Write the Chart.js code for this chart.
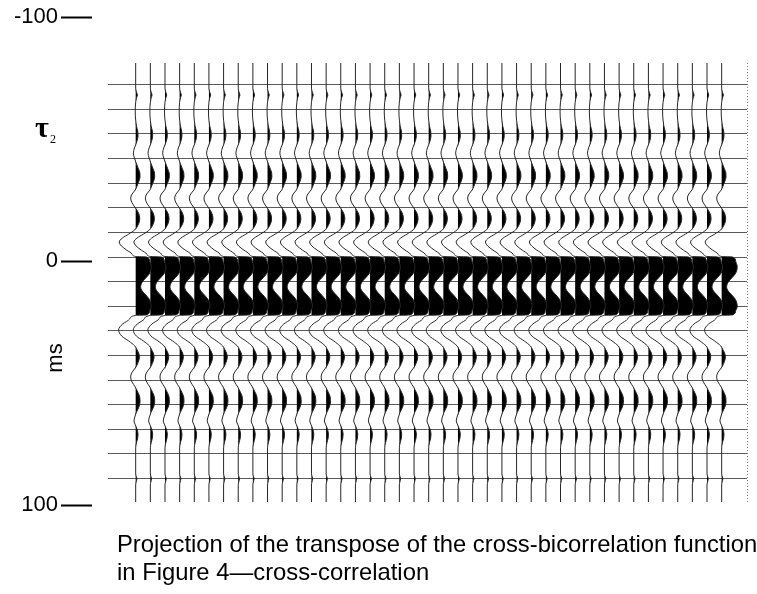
<!DOCTYPE html>
<html>
<head>
<meta charset="utf-8">
<script src="https://cdn.jsdelivr.net/npm/chart.js@4/dist/chart.umd.min.js"></script>
<style>
  html, body { margin: 0; padding: 0; background: #fff; }
  canvas { display: block; }
</style>
</head>
<body>
<canvas id="c" width="757" height="594"></canvas>
<script>
// Lag (in grid steps, 0 = zero lag) at which each trace is sampled
const lagSamples = [
  -7.88, -6.86, -6.70, -6.58, -6.46, -6.29, -5.89, -5.56, -5.32, -5.12,
  -4.95, -4.79, -4.59, -4.43, -4.22, -4.02, -3.82, -3.61, -3.41, -3.25,
  -3.05, -2.84, -2.72, -2.56, -2.40, -2.23, -2.07, -1.95, -1.79, -1.58,
  -1.42, -1.26, -1.10, -0.93, -0.77, -0.61, -0.45, -0.28, -0.12, -0.02,
   0.00,  0.16,  0.37,  0.53,  0.69,  0.85,  1.02,  1.22,  1.38,  1.54,
   1.71,  1.87,  2.03,  2.19,  2.35,  2.37,  2.52,  2.72,  2.96,  3.21,
   3.41,  3.61,  3.74,  3.90,  4.06,  4.22,  4.43,  4.59,  4.75,  4.91,
   5.08,  5.28,  5.44,  5.68,  5.89,  6.09,  6.33,  6.50,  6.66,  6.82,
   6.98,  7.19,  7.35,  7.55,  7.75,  8.81,  8.93,  9.01,  9.14,  9.26,
   9.95
];

// Normalised cross-correlation at those lags (same for every trace)
const crossCorr = [
   0.00,  0.00,  0.05,  0.11,  0.05,  0.00, -0.03,  0.00,  0.05,  0.13,
   0.15,  0.12,  0.02, -0.08, -0.15, -0.08,  0.03,  0.16,  0.27,  0.28,
   0.19,  0.06, -0.03, -0.23, -0.32, -0.26, -0.10,  0.03,  0.18,  0.26,
   0.23,  0.12, -0.06, -0.45, -0.86, -1.06, -0.92, -0.58, -0.23,  0.00,
   0.71,  0.90,  1.00,  0.98,  0.87,  0.65,  0.42,  0.32,  0.42,  0.65,
   0.87,  0.98,  1.00,  0.90,  0.71,  0.00, -0.39, -0.84, -1.10, -0.90,
  -0.45, -0.06,  0.06,  0.19,  0.24,  0.19,  0.05, -0.13, -0.29, -0.32,
  -0.23, -0.03,  0.10,  0.26,  0.28,  0.21,  0.03, -0.06, -0.11, -0.02,
   0.08,  0.15,  0.13,  0.05,  0.00,  0.00,  0.05,  0.08,  0.03,  0.00,
   0.00
];

const traceCount = 41;                       // traces across the panel
const gridLags = [-7, -6, -5, -4, -3, -2, -1, 0, 1, 2, 3, 4, 5, 6, 7, 8, 9];
const msTicks = [-100, 0, 100];              // labelled time marks
const lagRange = [-7.88, 9.95];
const msRange = [-81.15, 98.77];
const traceRange = [-1.89, 41.73];
const traceGain = 1.06;                      // trace spacings per unit correlation
const axisName = 'ms';
const lagSymbol = 'τ';
const lagSub = '2';
const captionLines = [
  'Projection of the transpose of the cross-bicorrelation function',
  'in Figure 4\u2014cross-correlation'
];

const datasets = [];
for (let i = 0; i < traceCount; i++) {
  // wiggle line
  datasets.push({
    data: lagSamples.map((t, k) => ({ x: i + traceGain * crossCorr[k], y: t })),
    borderColor: '#262626',
    borderWidth: 1,
    pointRadius: 0,
    fill: false,
    cubicInterpolationMode: 'monotone',
    xAxisID: 'x',
    yAxisID: 'lag'
  });
  // positive lobes shaded towards the trace baseline
  datasets.push({
    data: lagSamples.map((t, k) => ({ x: i + traceGain * Math.max(0, crossCorr[k]), y: t })),
    borderWidth: 0,
    borderColor: 'rgba(0,0,0,0)',
    backgroundColor: '#000',
    pointRadius: 0,
    fill: { value: i },
    cubicInterpolationMode: 'monotone',
    xAxisID: 'x',
    yAxisID: 'lag'
  });
}

const notes = {
  id: 'notes',
  afterDraw(chart) {
    const ctx = chart.ctx;
    ctx.save();
    ctx.fillStyle = '#000';
    ctx.textAlign = 'center';
    ctx.textBaseline = 'middle';

    ctx.save();
    ctx.font = '22px "Liberation Sans", Arial, sans-serif';
    ctx.translate(56, 358);
    ctx.rotate(-Math.PI / 2);
    ctx.fillText(axisName, 0, 0);
    ctx.restore();

    ctx.font = 'bold 30px "Liberation Serif", "Times New Roman", serif';
    ctx.fillText(lagSymbol, 42, 129);
    ctx.font = '12px "Liberation Serif", "Times New Roman", serif';
    ctx.fillText(lagSub, 53, 140);

    ctx.font = '23.8px "Liberation Sans", Arial, sans-serif';
    ctx.textAlign = 'left';
    captionLines.forEach((line, k) => ctx.fillText(line, 117, 545 + 28 * k));
    ctx.restore();
  }
};

new Chart(document.getElementById('c'), {
  type: 'line',
  data: { datasets },
  plugins: [notes],
  options: {
    indexAxis: 'y',
    responsive: false,
    animation: false,
    events: [],
    layout: { padding: { top: 63, right: 10, bottom: 92, left: 0 } },
    plugins: { legend: { display: false }, tooltip: { enabled: false } },
    scales: {
      x: {
        type: 'linear',
        position: 'bottom',
        min: traceRange[0],
        max: traceRange[1],
        afterBuildTicks: s => { s.ticks = [{ value: traceRange[1] }]; },
        afterFit: s => { s.height = 0; },
        ticks: { display: false },
        grid: { color: '#808080', lineWidth: 1, drawTicks: false },
        border: { display: false, dash: [1, 2] }
      },
      lag: {
        axis: 'y',
        type: 'linear',
        position: 'left',
        weight: 1,
        reverse: true,
        min: lagRange[0],
        max: lagRange[1],
        afterBuildTicks: s => { s.ticks = gridLags.map(v => ({ value: v })); },
        afterFit: s => { s.width = 16; },
        ticks: { display: false },
        grid: { color: '#5a5a5a', lineWidth: 1, drawTicks: false },
        border: { display: false }
      },
      ms: {
        axis: 'y',
        type: 'linear',
        position: 'left',
        weight: 2,
        reverse: true,
        min: msRange[0],
        max: msRange[1],
        afterBuildTicks: s => { s.ticks = msTicks.map(v => ({ value: v })); },
        afterFit: s => { s.width = 92; },
        ticks: {
          autoSkip: false,
          padding: 3,
          color: '#000',
          font: { family: '"Liberation Sans", Arial, sans-serif', size: 22 }
        },
        grid: {
          drawOnChartArea: false,
          drawTicks: true,
          tickLength: 31,
          tickWidth: 2,
          tickColor: '#000',
          color: '#000'
        },
        border: { display: false }
      }
    }
  }
});
</script>
</body>
</html>
